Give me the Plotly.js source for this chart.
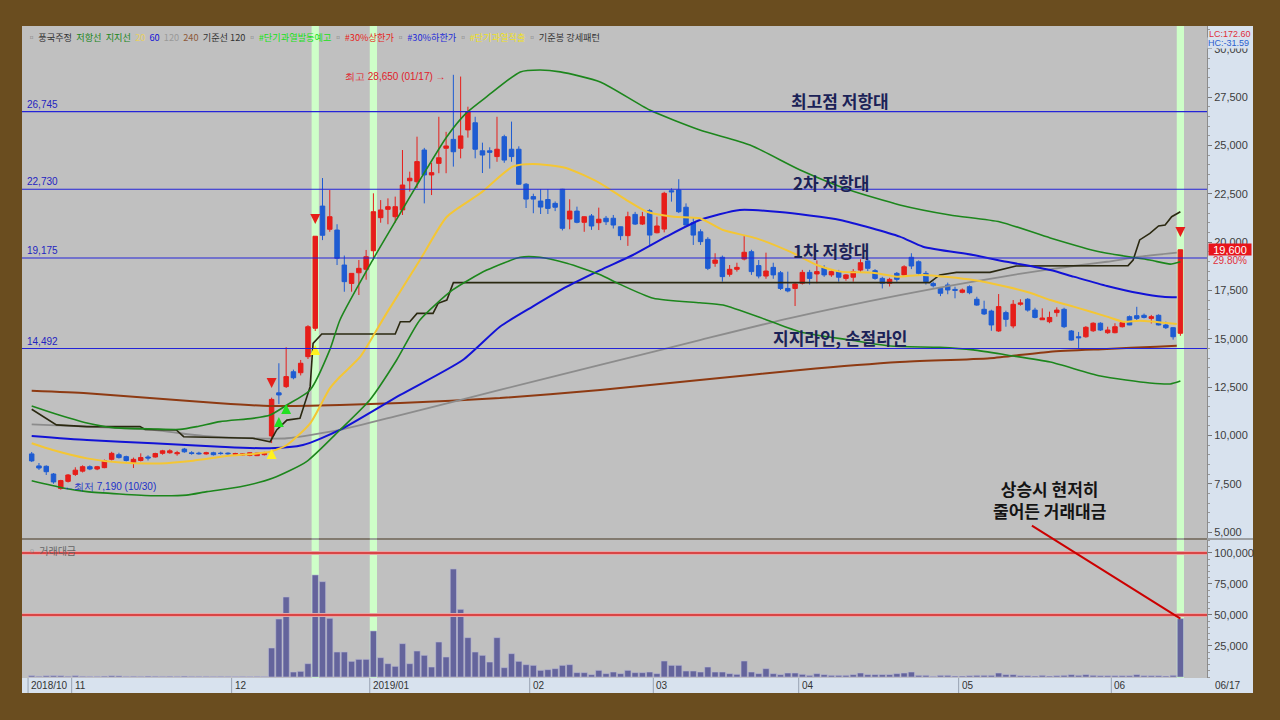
<!DOCTYPE html>
<html><head><meta charset="utf-8">
<script src="https://cdn.plot.ly/plotly-3.0.1.min.js"></script>
<style>html,body{margin:0;padding:0;background:#6A4D1F;}#chart{width:1280px;height:720px;}</style>
</head><body><div id="chart"></div>
<script>
// ---------- DATA ----------
const monthLabels = ['2018/10','11','12','2019/01','02','03','04','05','06'];
const monthDays = [
 [24,25,26,29,30,31],
 [1,2,5,6,7,8,9,12,13,14,15,16,19,20,21,22,23,26,27,28,29,30],
 [3,4,5,6,7,10,11,12,13,14,17,18,19,20,21,24,26,27,28],
 [2,3,4,7,8,9,10,11,14,15,16,17,18,21,22,23,24,25,28,29,30,31],
 [1,7,8,11,12,13,14,15,18,19,20,21,22,25,26,27,28],
 [4,5,6,7,8,11,12,13,14,15,18,19,20,21,22,25,26,27,28,29],
 [1,2,3,4,5,8,9,10,11,12,15,16,17,18,19,22,23,24,25,26,29,30],
 [2,3,7,8,9,10,13,14,15,16,17,20,21,22,23,24,27,28,29,30,31],
 [3,4,5,7,10,11,12,13,14,17]
];
const lastDateLabel = '06/17';

const openP = [9040,8420,8400,8000,7250,7620,7980,8150,8380,8260,8330,8760,9000,8900,8550,8700,8880,8880,9070,9100,9050,9290,9100,9080,9040,9100,9080,9080,9020,8980,8960,8950,9000,
 9970,12200,12520,13290,13240,14070,15540,21860,20660,20620,18810,17860,18410,18590,
 19550,21260,21690,21310,21660,23170,23120,24760,23470,24070,24850,25310,24850,25800,26170,24720,24720,24420,25450,24800,24800,22990,
 22350,22120,22200,22000,22730,21190,21600,21020,21350,21000,21230,21230,20790,20330,21430,20930,21620,
 20480,20670,22650,22690,21800,21000,20530,20140,18900,19210,18330,18590,19120,19500,18780,18240,18690,18410,17600,17600,
 17870,18430,18350,18670,18300,18470,18120,18180,18550,19020,18520,18120,17865,18380,18300,19210,18980,18380,17860,17600,17780,17550,
 17400,17690,17040,16520,16430,15400,16350,15660,16780,17040,16480,15980,15880,16350,16520,15400,15100,15100,15410,15800,15310,
 15310,15620,16140,16190,16210,16050,16210,15710,15570,15280];
const highP = [9140,8570,8450,8050,7700,8000,8350,8450,8450,8420,8750,9150,9100,8950,8850,9070,8970,9100,9250,9280,9200,9350,9180,9150,9150,9150,9150,9120,9100,9080,9120,9100,9150,
 11950,13730,14560,13400,13900,15700,20300,23310,22690,20920,19300,18380,19070,19590,
 22520,22170,22260,22350,24760,23640,25450,24870,24100,26480,25700,28650,28560,27000,26480,25140,24900,26480,25550,26230,24950,23050,
 22500,22740,22740,22100,22750,22210,21830,21330,21450,21780,21350,21400,20800,21570,21560,21560,21700,
 21310,22600,22780,23250,22000,21250,20660,20250,19420,19300,18810,18930,20310,19600,19070,19450,18930,18500,18470,17900,
 18560,18560,19050,18800,18550,18560,18350,18600,19110,19150,18600,18200,18150,18450,18800,19420,19050,18500,17950,17650,17900,17690,
 17600,17760,17170,16965,16500,17310,16450,17000,17040,17100,16600,16570,16400,16620,16600,15450,15350,15650,15850,15850,15620,
 15800,15900,16200,16650,16300,16230,16260,15880,15600,19600];
const lowP = [8620,8210,7950,7500,7190,7560,7900,8080,8200,8200,8300,8700,8800,8650,8310,8650,8700,8850,9000,9050,8950,9100,9000,9000,9000,8960,9000,8990,8980,8950,8920,8930,8960,
 9600,11620,12450,12900,13100,13950,15400,20100,20530,18810,17430,17430,17260,18050,
 19070,21000,20920,21000,21400,22610,22800,22000,22430,23560,23560,23900,24330,25400,24330,23570,23800,24150,24100,24150,22950,21760,
 21490,21450,21450,21600,20600,20660,20970,20530,20630,20620,20880,20700,20100,19800,20880,20880,19850,
 20450,20500,22090,21500,20880,19850,19850,18550,18720,17950,18210,18470,19050,18300,18120,18100,18100,17520,17400,16690,
 17800,17800,17870,18200,18200,17950,18000,17950,18450,18500,18050,17600,17700,17950,18200,18600,18300,17800,17650,17200,17300,17090,
 17350,17300,16700,16225,15410,15350,15620,15540,16710,16400,16050,15970,15800,16140,15550,14900,14500,15050,15350,15400,15250,
 15280,15580,15700,15950,16050,15790,15690,15500,14950,15150];
const closeP = [8680,8310,8120,7590,7660,7950,8200,8380,8260,8380,8690,9070,8850,8700,8760,8850,8830,9060,9200,9200,9100,9150,9060,9050,9100,9000,9060,9050,9060,9040,9100,9080,9100,
 11860,12090,13040,12980,13730,15620,20300,20350,21310,19160,17950,18380,18640,19240,
 21570,21660,21830,21830,22950,23300,24160,23470,23590,24360,24970,24670,25490,26740,24800,24500,24640,24800,24240,24420,22990,22220,
 22220,21810,21740,21800,20710,21600,21020,21310,20830,21180,21050,20880,20330,21310,20930,21310,20360,
 20830,22520,22600,21570,20880,20360,20020,18640,19070,18210,18590,18690,19470,18470,18240,18500,18300,17600,17470,17830,
 18430,18120,18470,18300,18470,18180,18300,18470,18930,18640,18120,17865,18070,18070,18720,18760,18380,17950,17740,17350,17520,17500,
 17520,17380,16740,16280,15710,16660,16000,16780,16850,16480,16100,16070,16100,16480,15620,14930,15050,15590,15800,15450,15450,
 15620,15830,15710,16050,16100,16140,15710,15570,15100,19600];
const tradeValue = [1100,600,1000,1100,1050,600,1100,600,500,500,700,1000,900,500,600,500,700,600,500,600,500,700,500,500,500,450,500,450,400,450,400,450,400,
 23380,46750,64490,4030,4570,10750,82220,76850,47290,20150,20150,12630,14240,14240,
 37080,15580,10750,8600,26870,10750,20960,17470,8060,28210,16120,87060,54550,31710,20150,17470,12090,31710,7520,18810,12630,9940,
 9400,5370,5910,6720,9400,9940,3490,3490,1880,5370,2690,4030,2690,5370,3490,3490,4030,
 2690,12900,9400,9400,4840,4840,4030,8060,4030,4030,2690,2150,12900,4030,2690,6720,2690,1880,3220,3220,
 2150,1340,2690,1880,1340,1340,1340,1880,3220,1880,1880,1880,1880,2690,3220,4030,1340,1340,540,1340,1340,800,
 800,1070,1340,1340,1340,3220,1880,1880,1070,1070,800,1340,800,1070,1340,1880,1340,1880,1340,1070,1070,
 1070,1070,1070,1880,1070,1070,1070,800,1340,47000];

// indicator lines (bar index, price)
const bbUpperIdx = [0,2.9,7.6,11.2,16.7,20.4,22.7,25.9,30.4,32.8,35.1,38.3,41,42.4,46.9,50.7,53.4,57.1,59.8,62.6,67.2,69.9,72.7,78.2,85,91.9,98.8,105.7,112.5,119.4,126.3,133.2,140.1,147,153.8,156.6,158];
const bbUpperVal = [11520,11160,10640,10400,10330,10310,10450,10710,10880,11050,11570,12350,14420,15970,19070,21500,23210,25450,26680,27520,28800,28900,28800,28280,26830,25800,25020,23730,22690,21920,21400,21040,20210,19480,19070,18860,18980];
const bbLowerIdx = [0,4.3,7.6,12.1,16.7,21.3,24.1,28.7,33.2,37.8,42.4,46.5,50.2,53.4,57.9,62.6,67.2,69.9,73.6,78.3,80.6,85.5,91.9,95.1,101.1,105.7,112.6,118.1,124.9,129.5,134.1,140.1,147,153.8,156.6,158];
const bbLowerVal = [7650,7280,7090,6970,6880,6910,7090,7340,7790,8640,10280,11830,13900,15970,17520,18550,19210,19210,18900,18300,17870,17090,16860,16740,15970,15350,14930,14620,14550,14420,14160,13790,13070,12710,12660,12810];
const ma20Idx = [0,2.9,7.6,12.2,17.6,22.2,26.8,30.4,32.8,35.1,38.3,41,42.4,45.2,48.8,53.4,57.1,61.7,66.2,68.9,73.6,78.2,81.8,84.6,88.3,91.9,95.1,99.7,104.3,108,111.2,115.7,119,122.6,129.5,134.1,137.3,140.1,143.3,147.9,150.1,152.4,157.5];
const ma20Val = [9590,9240,8810,8590,8550,8690,8930,9040,9150,9500,10620,12430,13030,14070,16310,19070,21310,22520,23910,24040,23820,23040,22170,21570,21310,21230,20620,20190,19500,18810,18470,18410,18210,18300,18040,17690,17380,17000,16660,16140,15880,15930,15760];
const ma60Idx = [0,7.6,16.7,25.9,32.8,37.3,42.4,50.7,59.3,64.4,68.9,73.6,78.2,82.7,87.3,91.9,97.4,102.9,111.2,119.4,122.6,129.5,134.1,140.1,143.3,147.9,152.4,155.6,157.5];
const ma60Val = [9970,9760,9590,9410,9330,9500,10280,12090,13900,15620,16660,17690,18550,19330,20280,21140,21660,21550,21140,20280,19760,19330,18980,18550,18210,17730,17350,17170,17140];
const ma120Idx = [0,7.6,16.7,23.6,30.4,35.1,42.4,50.7,64.4,78.2,91.9,104.3,119.4,129.5,136.3,143.3,147.9,152.4,157.5];
const ma120Val = [10570,10450,10280,9970,9850,9850,10280,11050,12350,13640,14930,16070,17260,17950,18380,18760,18980,19240,19450];
const ma240Idx = [0,7.6,16.7,25.9,32.8,42.4,50.7,64.4,78.2,91.9,105.7,119.4,131.8,140.1,147.9,154.7,157.5];
const ma240Val = [12310,12180,11920,11660,11520,11570,11670,11930,12350,12860,13380,13790,13990,14330,14470,14590,14640];
const baseIdx = [0,3.4,7.6,14.9,15.6,19.9,20.9,30.4,32.8,33.7,35.1,36.9,38.3,38.7,39.9,50,50.7,52,53,55.2,55.9,57.1,58,123.5,124.9,127.2,131.8,133.2,135.4,150.8,151.5,152.4,153.8,155,155.9,156.8,158];
const baseVal = [11350,10540,10450,10450,10310,10280,9930,9850,9670,10280,10790,10880,12520,14760,15240,15240,15880,15880,16310,16310,16830,17000,17900,17900,18300,18430,18430,18550,18760,18780,19070,20110,20450,20830,20880,21310,21570];

// signals
const sigDownIdx = [33,39,158], sigDownVal = [12450,20930,20260];
const sigGreenIdx = [34,35], sigGreenVal = [10950,11620];
const sigYellowIdx = [33,39], sigYellowVal = [9290,14670];
const highlightIdx = [39,47,158];

// levels & texts
const levelVals = [26745,22730,19175,14492];
const levelLabels = ['26,745','22,730','19,175','14,492'];
const zoneTexts = ['최고점 저항대','2차 저항대','1차 저항대','지지라인, 손절라인'];
const zoneIdx = [111.2,110,110,111.2];
const zoneVals = [27300,23100,19550,15040];
const volLines = [100000,50000];
const highIdx = 58, highLabel = '최고 28,650 (01/17) →';
const lowIdx = 4, lowLabel = '←최저 7,190 (10/30)';
const noteText = '상승시 현저히<br>줄어든 거래대금';
const noteIdx = 140, noteVal = 6680;
const lastClose = '19,600', lastChange = '29.80%';
const lcText = 'LC:172.60', hcText = 'HC:-31.59';

// ---------- BUILD ----------
const idx = [];
const dates = [];
const monthStart = [];
monthDays.forEach((days,m)=>{ monthStart.push(dates.length); days.forEach(d=>{dates.push(m+'-'+d); idx.push(idx.length);}); });
const N = idx.length;

const KR = 'Noto Sans CJK KR, sans-serif';
const NUM = 'Liberation Sans Narrow, Arial Narrow, Liberation Sans, sans-serif';

function line(xs, ys, color, w, shape){ return {type:'scatter', mode:'lines', x:xs, y:ys, xaxis:'x', yaxis:'y', line:{color:color, width:w, shape:shape||'spline', smoothing:0.6}, hoverinfo:'skip'}; }

const traces = [
 line(ma240Idx, ma240Val, '#8E3A12', 2),
 line(ma120Idx, ma120Val, '#8C8C8C', 1.8),
 line(baseIdx, baseVal, '#2A2810', 1.6, 'linear'),
 line(ma60Idx, ma60Val, '#1212D6', 2),
 line(bbUpperIdx, bbUpperVal, '#1C861C', 1.6),
 line(bbLowerIdx, bbLowerVal, '#1C861C', 1.6),
 line(ma20Idx, ma20Val, '#F4C634', 2),
 {type:'candlestick', x:idx, open:openP, high:highP, low:lowP, close:closeP, xaxis:'x', yaxis:'y',
  increasing:{line:{color:'#E61E1A', width:1}, fillcolor:'#E61E1A'},
  decreasing:{line:{color:'#1E5CD2', width:1}, fillcolor:'#1E5CD2'},
  whiskerwidth:0, hoverinfo:'skip'},
 {type:'scatter', mode:'markers', x:sigDownIdx, y:sigDownVal, yaxis:'y', marker:{symbol:'arrow-down', size:10, color:'#E61E1A'}, hoverinfo:'skip'},
 {type:'scatter', mode:'markers', x:sigGreenIdx, y:sigGreenVal, yaxis:'y', marker:{symbol:'arrow-up', size:10, color:'#22E022'}, hoverinfo:'skip'},
 {type:'scatter', mode:'markers', x:sigYellowIdx, y:sigYellowVal, yaxis:'y', marker:{symbol:'arrow-up', size:10, color:'#FFF21E'}, hoverinfo:'skip'},
 {type:'bar', x:idx, y:tradeValue, xaxis:'x', yaxis:'y2', marker:{color:'#64649C', line:{color:'#B8B8D4', width:0.6}}, hoverinfo:'skip'}
];

const STRIP = 1 + 46/1185;
const BOT = -15/652;
const shapes = [
 {type:'rect', xref:'paper', yref:'paper', x0:1, x1:STRIP, y0:BOT, y1:1, fillcolor:'#D8E2EE', line:{width:0}, layer:'below'},
 {type:'rect', xref:'paper', yref:'paper', x0:0, x1:STRIP, y0:BOT, y1:0, fillcolor:'#D8E2EE', line:{width:0}, layer:'below'},
 {type:'line', xref:'paper', yref:'paper', x0:0, x1:STRIP, y0:0.2132, y1:0.2132, line:{color:'#8A8A8A', width:1.5}}
];
highlightIdx.forEach(i=>shapes.push({type:'rect', xref:'x', yref:'paper', x0:i-0.5, x1:i+0.5, y0:0, y1:1, fillcolor:'#CEFFC8', line:{width:0}, layer:'below'}));
levelVals.forEach(v=>shapes.push({type:'line', xref:'paper', yref:'y', x0:0, x1:1, y0:v, y1:v, line:{color:'#2424D8', width:1.2}}));
volLines.forEach(v=>{
 shapes.push({type:'line', xref:'paper', yref:'y2', x0:0, x1:1, y0:v, y1:v, line:{color:'#E6A6A6', width:4}});
 shapes.push({type:'line', xref:'paper', yref:'y2', x0:0, x1:1, y0:v, y1:v, line:{color:'#D42424', width:1.5}});
});
monthStart.forEach(s=>shapes.push({type:'line', xref:'x', yref:'paper', x0:s-0.5, x1:s-0.5, y0:BOT, y1:0, line:{color:'#98A2B2', width:1}}));

const annotations = [];
monthStart.forEach((s,k)=>annotations.push({xref:'x', yref:'paper', x:s-0.5, y:0, xanchor:'left', yanchor:'top', xshift:1, yshift:0, showarrow:false, text:monthLabels[k], font:{family:NUM, size:10, color:'#333'}}));
annotations.push({xref:'paper', yref:'paper', x:1, y:0, xanchor:'left', yanchor:'top', xshift:6, yshift:0, showarrow:false, text:lastDateLabel, font:{family:NUM, size:10, color:'#333'}});
levelVals.forEach((v,k)=>annotations.push({xref:'paper', yref:'y', x:0, y:v, xanchor:'left', yanchor:'bottom', xshift:3, yshift:0, showarrow:false, text:levelLabels[k], font:{family:NUM, size:10, color:'#2424C0'}}));
zoneTexts.forEach((t,k)=>annotations.push({xref:'x', yref:'y', x:zoneIdx[k], y:zoneVals[k], showarrow:false, text:t, font:{family:KR, size:17, color:'#1B2257', weight:700}}));
annotations.push({xref:'x', yref:'y', x:noteIdx, y:noteVal, showarrow:false, text:noteText, font:{family:KR, size:17, color:'#141414', weight:600}});
annotations.push({xref:'x', yref:'y2', x:N-1, y:tradeValue[N-1], ax:-150, ay:-94, showarrow:true, arrowhead:0, arrowwidth:2, arrowcolor:'#CC0000', text:'', standoff:0, startstandoff:0});
annotations.push({xref:'x', yref:'y', x:highIdx, y:highP[highIdx], xanchor:'right', yanchor:'middle', xshift:-5, yshift:-2, showarrow:false, text:highLabel, font:{family:NUM, size:10, color:'#E0202A'}});
annotations.push({xref:'x', yref:'y', x:lowIdx, y:lowP[lowIdx], xanchor:'left', yanchor:'middle', xshift:1, yshift:3, showarrow:false, text:lowLabel, font:{family:NUM, size:10, color:'#2030C8'}});
annotations.push({xref:'paper', yref:'y', x:1, y:closeP[N-1], xanchor:'left', yanchor:'middle', xshift:1, showarrow:false, text:lastClose, bgcolor:'#E8141B', width:42, height:11, borderpad:0, font:{family:NUM, size:11, color:'#FFFFFF'}});
annotations.push({xref:'paper', yref:'y', x:1, y:closeP[N-1], xanchor:'left', yanchor:'middle', xshift:4, yshift:-11, showarrow:false, text:lastChange, font:{family:NUM, size:10, color:'#E0303A'}});
annotations.push({xref:'paper', yref:'paper', x:1, y:1, xanchor:'left', yanchor:'top', xshift:0, yshift:-1, showarrow:false, text:lcText, font:{family:NUM, size:9, color:'#E0303A'}});
annotations.push({xref:'paper', yref:'paper', x:1, y:1, xanchor:'left', yanchor:'top', xshift:0, yshift:-11, showarrow:false, text:hcText, bgcolor:'#D8E2EE', borderpad:0, font:{family:NUM, size:9, color:'#2A5FD0'}});
annotations.push({xref:'paper', yref:'paper', x:0, y:0.2117, xanchor:'left', yanchor:'top', xshift:3, yshift:-1, showarrow:false, text:'<span style="color:#777">▫</span> 거래대금', font:{family:KR, size:10, color:'#666'}});
const legendHtml = '<span style="color:#777">▫</span> <span style="color:#333">풍국주정</span>  <span style="color:#1C861C">저항선</span>  <span style="color:#1C861C">지지선</span>  <span style="color:#E8D060">20</span>  <span style="color:#1212D6">60</span>  <span style="color:#999999">120</span>  <span style="color:#8E5A3A">240</span>  <span style="color:#333">기준선 120</span> <span style="color:#777">▫</span> <span style="color:#18E018">#단기과열발동예고</span> <span style="color:#777">▫</span> <span style="color:#E61E1A">#30%상한가</span> <span style="color:#777">▫</span> <span style="color:#1E2AD8">#30%하한가</span> <span style="color:#777">▫</span> <span style="color:#F0E020">#단기과열적출</span> <span style="color:#777">▫</span> <span style="color:#333">기준봉 강세패턴</span>';
annotations.push({xref:'paper', yref:'paper', x:0, y:1, xanchor:'left', yanchor:'top', xshift:3, yshift:-2, showarrow:false, text:legendHtml, font:{family:KR, size:9.2, color:'#333'}});

const layout = {
 width:1280, height:720, margin:{l:22, r:73, t:26, b:42},
 paper_bgcolor:'#6A4D1F', plot_bgcolor:'#C0C0C0', showlegend:false,
 boxgap:0.12, bargap:0.14, hovermode:false,
 xaxis:{range:[-1.334,161.66], showgrid:false, zeroline:false, showticklabels:false, ticks:'', anchor:'y2', rangeslider:{visible:false}, showline:false},
 yaxis:{domain:[0.2147,1], range:[4690,31175], side:'right', showgrid:false, zeroline:false,
  tickmode:'linear', tick0:5000, dtick:2500, tickformat:',d', ticks:'outside', ticklen:4, tickcolor:'#777',
  showline:true, linecolor:'#8C8C8C', tickfont:{family:NUM, size:11, color:'#3C3C3C'},
  minor:{ticks:'outside', ticklen:2, dtick:500, tick0:0, tickcolor:'#999'}},
 yaxis2:{domain:[0,0.2117], range:[-806,110422], side:'right', showgrid:false, zeroline:false,
  tickmode:'array', tickvals:[25000,50000,75000,100000], tickformat:',d', ticks:'outside', ticklen:4, tickcolor:'#777',
  showline:true, linecolor:'#8C8C8C', tickfont:{family:NUM, size:11, color:'#3C3C3C'},
  minor:{ticks:'outside', ticklen:2, dtick:5000, tick0:0, tickcolor:'#999'}},
 shapes:shapes, annotations:annotations
};
Plotly.newPlot('chart', traces, layout, {staticPlot:true, displayModeBar:false});
</script>
</body></html>
